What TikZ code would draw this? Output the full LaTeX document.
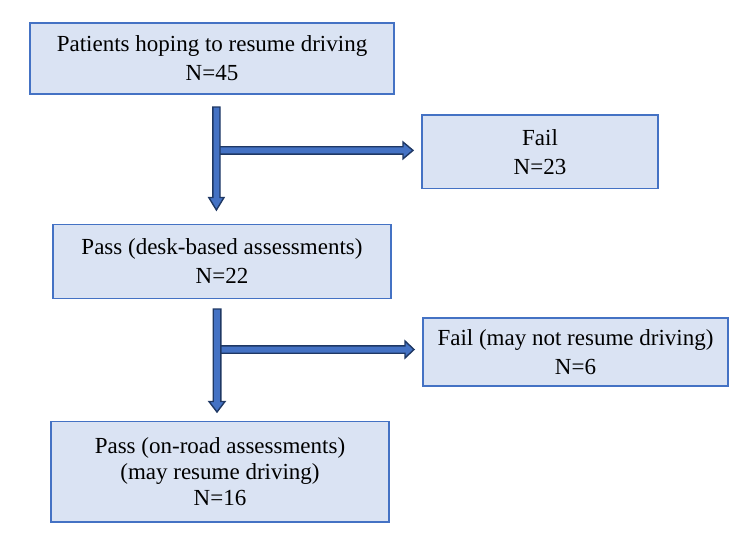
\documentclass[tikz,border=0pt]{standalone}
\usepackage{fontspec}
\setmainfont{Liberation Serif}
\definecolor{boxfill}{HTML}{DAE3F3}
\definecolor{boxline}{HTML}{4472C4}
\definecolor{arrfill}{HTML}{4472C4}
\definecolor{arrline}{HTML}{1F3864}
\tikzset{
  box/.style={draw=boxline, fill=boxfill, line width=1.6pt, inner sep=0pt, rectangle,
    align=center, font=\fontsize{23}{29}\selectfont, text=black},
  blockarrow/.style={fill=arrfill, draw=arrline, line width=1.4pt, line join=miter}
}
\begin{document}
\begin{tikzpicture}[x=1pt,y=-1pt]
\useasboundingbox (0,0) rectangle (750,552);
% boxes
\node[box, minimum width=364pt, minimum height=71pt] (b1) at (212,58.5) {Patients hoping to resume driving\\N=45};
\node[box, minimum width=236pt, minimum height=73.5pt] (f1) at (540,151.75) {Fail\\N=23};
\node[box, minimum width=338pt, minimum height=74pt] (b2) at (222,261.5) {Pass (desk-based assessments)\\N=22};
\node[box, minimum width=305pt, minimum height=68pt] (f2) at (575.5,352) {Fail (may not resume driving)\\N=6};
\node[box, minimum width=338pt, minimum height=100.5pt, font=\fontsize{23}{26}\selectfont] (b3) at (220,471.75) {Pass (on-road assessments)\\(may resume driving)\\N=16};
% horizontal block arrows
\draw[blockarrow] (218,146.7) -- (403,146.7) -- (403,142) -- (413,150.4) -- (403,158.8) -- (403,154.1) -- (218,154.1) -- cycle;
\draw[blockarrow] (219,345.8) -- (405,345.8) -- (405,341) -- (414,349.5) -- (405,358) -- (405,353.2) -- (219,353.2) -- cycle;
% vertical block arrows
\draw[blockarrow] (212.8,107) -- (220,107) -- (220,197.5) -- (224,197.5) -- (216.4,210) -- (208.8,197.5) -- (212.8,197.5) -- cycle;
\draw[blockarrow] (213.2,309) -- (220.8,309) -- (220.8,401.5) -- (225,401.5) -- (217,412) -- (209,401.5) -- (213.2,401.5) -- cycle;
\end{tikzpicture}
\end{document}
